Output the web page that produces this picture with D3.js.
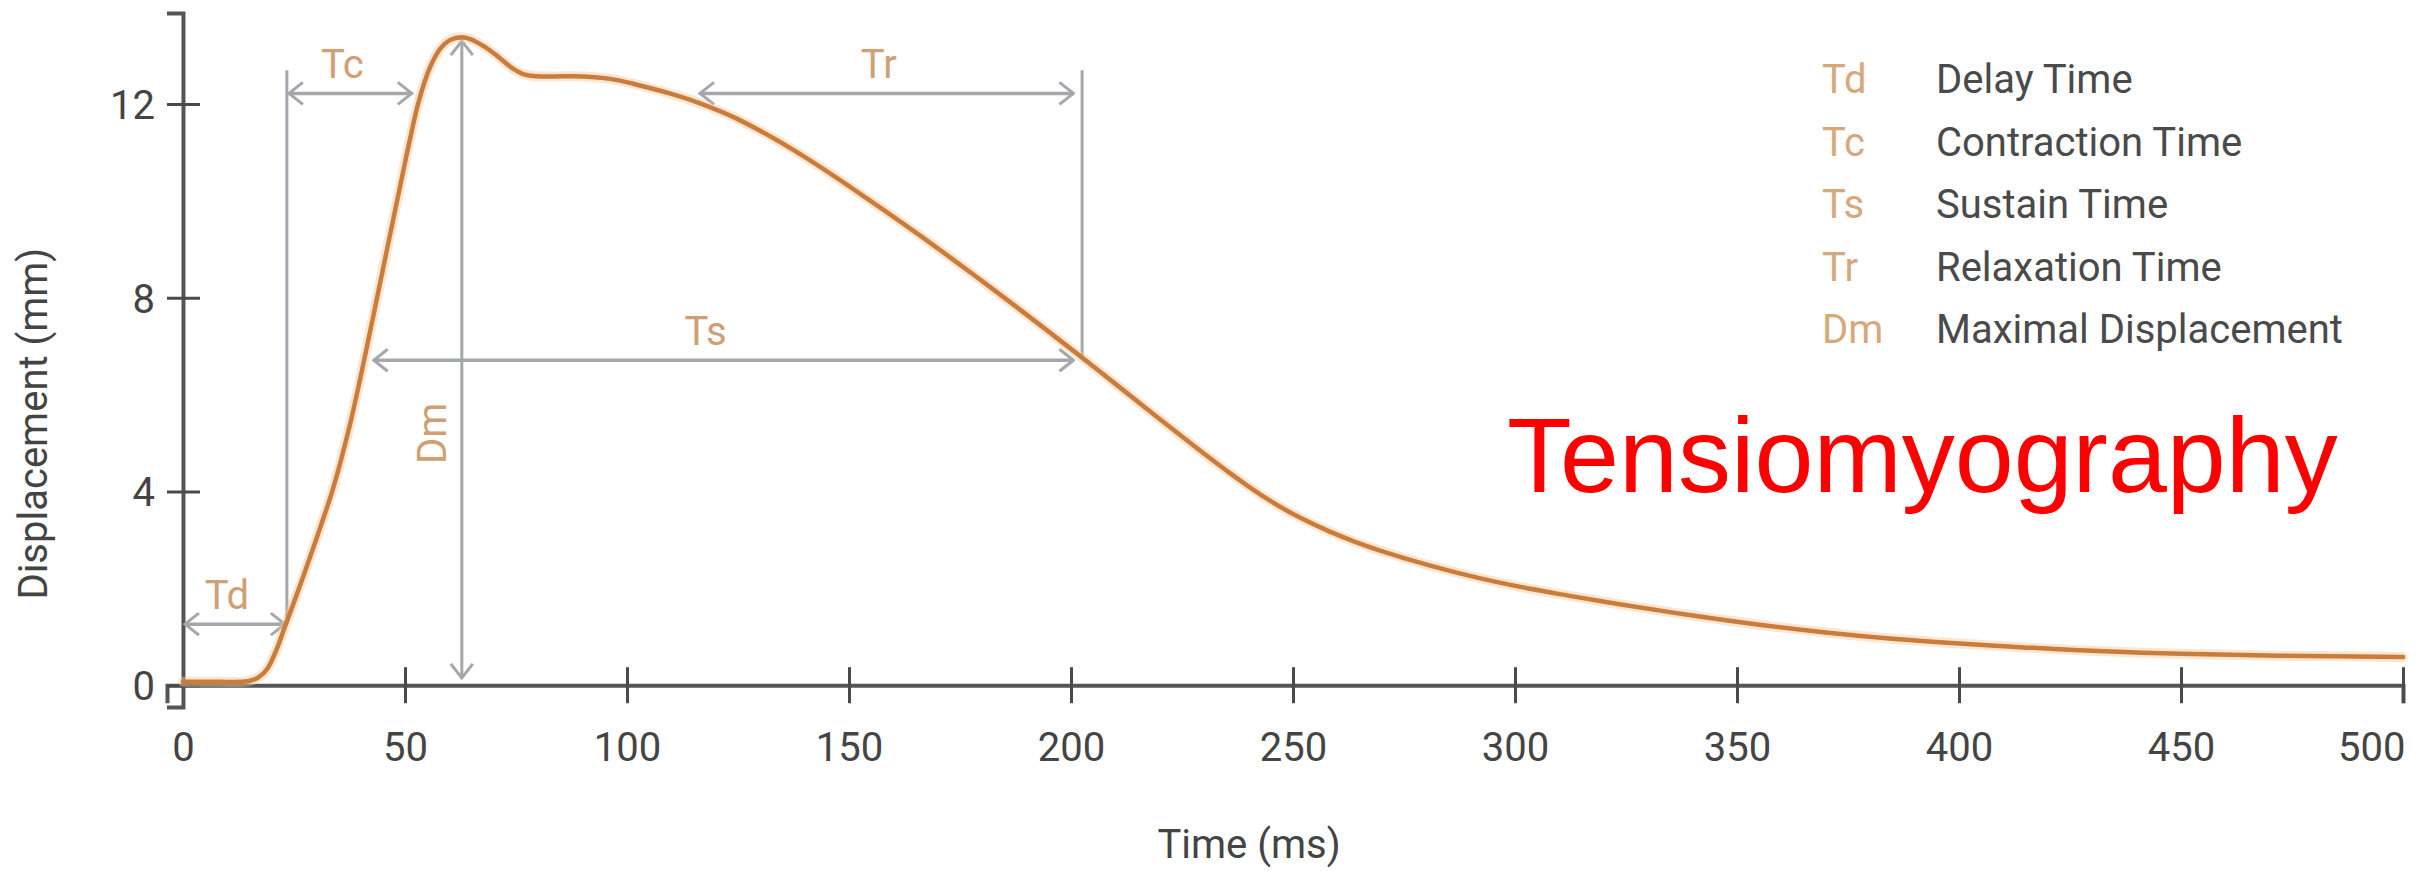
<!DOCTYPE html>
<html><head><meta charset="utf-8">
<script src="https://cdn.jsdelivr.net/npm/d3@7"></script>
<style>
body{margin:0;background:#fff;}
svg{display:block;}
text{font-family:Roboto,"DejaVu Sans",sans-serif;}
</style>
</head><body>
<svg id="chart" width="2432" height="871"></svg>
<script>
// ---- data ----
const timeMs = [0, 8, 14.5, 17, 19, 21, 23, 25.5, 28.6, 31, 33.8, 37.6, 41, 45.1, 48.9, 51, 53, 55.6, 58, 60.1, 62.8, 65, 67.6, 70, 72, 74.5, 76.6, 79, 82.7, 90.2, 96.2, 101.4, 106, 110, 116, 124, 132.9, 140, 148, 155, 163, 170, 178, 186, 193, 202, 211, 218, 224.5, 230, 235.8, 241, 247, 252, 258.3, 264, 269.6, 280.9, 292, 303.4, 312, 325, 340, 355, 370, 385, 400, 413, 427, 450, 472, 500];
const displacement = [0.07, 0.07, 0.08, 0.16, 0.34, 0.72, 1.22, 1.84, 2.64, 3.28, 4.06, 5.38, 6.8, 8.62, 10.3, 11.22, 12.02, 12.75, 13.15, 13.32, 13.38, 13.33, 13.2, 13.05, 12.9, 12.72, 12.62, 12.58, 12.57, 12.57, 12.52, 12.42, 12.31, 12.21, 12.03, 11.73, 11.3, 10.91, 10.43, 9.99, 9.48, 9.02, 8.48, 7.93, 7.44, 6.8, 6.15, 5.64, 5.17, 4.78, 4.38, 4.04, 3.69, 3.44, 3.17, 2.96, 2.78, 2.47, 2.21, 1.99, 1.85, 1.65, 1.44, 1.25, 1.09, 0.96, 0.86, 0.79, 0.72, 0.65, 0.61, 0.58];
const xTicks = [0, 50, 100, 150, 200, 250, 300, 350, 400, 450, 500];
const yTicks = [0, 4, 8, 12];
const legendCodes = ["Td", "Tc", "Ts", "Tr", "Dm"];
const legendNames = ["Delay Time", "Contraction Time", "Sustain Time", "Relaxation Time", "Maximal Displacement"];
// timing spans (ms) and the displacement level (mm) they are drawn at
const spanNames = ["Td", "Tc", "Ts", "Tr"];
const spanStart = [0, 23.4, 42.5, 116];
const spanEnd = [23.4, 52, 201, 201];
const spanLevel = [1.26, 12.22, 6.71, 12.22];
// vertical guide lines
const guideTime = [23.4, 202.5];
const guideTop = [12.7, 12.7];
const guideBottom = [1.26, 6.75];
// maximal displacement marker
const dmTime = 62.8, dmTop = 13.3, dmBottom = 0.15;

// ---- scales ----
const svg = d3.select("#chart");
const x = d3.scaleLinear().domain([-3.6, 500]).range([167, 2403]);
const y = d3.scaleLinear().domain([-0.45, 13.88]).range([707, 13]);

const annoColor = "#a4a7ab";
const labelColor = "#cfa074";
const axisColor = "#555";

// arrow marker
const defs = svg.append("defs");
defs.append("marker").attr("id", "chev")
  .attr("markerUnits", "userSpaceOnUse")
  .attr("viewBox", "-16 -13 18 26")
  .attr("refX", 0).attr("refY", 0)
  .attr("markerWidth", 18).attr("markerHeight", 26)
  .attr("orient", "auto-start-reverse")
  .append("path").attr("d", "M-14,-11L0,0L-14,11")
  .attr("fill", "none").attr("stroke", annoColor).attr("stroke-width", 3);

// ---- axes ----
const xAxis = svg.append("g").attr("transform", `translate(0,${y(0)})`)
  .call(d3.axisBottom(x).tickValues(xTicks).tickSizeOuter(0).tickSize(18));
xAxis.select(".domain").attr("stroke", axisColor).attr("stroke-width", 4);
xAxis.selectAll(".tick line").attr("y1", -18).attr("stroke", "#4a4a4a").attr("stroke-width", 3);
xAxis.selectAll(".tick text").attr("y", 76).attr("dy", 0)
  .attr("font-size", 40).attr("fill", "#444")
  .attr("text-anchor", (d, i, n) => i === n.length - 1 ? "end" : "middle")
  .attr("x", (d, i, n) => i === n.length - 1 ? 2 : 0);

const yAxis = svg.append("g").attr("transform", `translate(${x(0)},0)`)
  .call(d3.axisLeft(y).tickValues(yTicks).tickSizeOuter(0).tickSize(16));
yAxis.select(".domain").attr("stroke", axisColor).attr("stroke-width", 4);
yAxis.selectAll(".tick line").attr("x1", 17).attr("stroke", "#4a4a4a").attr("stroke-width", 3);
yAxis.selectAll(".tick text").attr("x", -28).attr("dy", "0.36em")
  .attr("font-size", 40).attr("fill", "#444");

svg.append("text").attr("x", x(250) - 44).attr("y", 858)
  .attr("text-anchor", "middle").attr("font-size", 40).attr("fill", "#444")
  .text("Time (ms)");
svg.append("text").attr("transform", `translate(47,${y(5.4)}) rotate(-90)`)
  .attr("text-anchor", "middle").attr("font-size", 40).attr("fill", "#444")
  .text("Displacement (mm)");

// ---- annotations ----
const anno = svg.append("g");
anno.selectAll("line.guide").data(guideTime).join("line").attr("class", "guide")
  .attr("x1", d => x(d)).attr("x2", d => x(d))
  .attr("y1", (d, i) => y(guideTop[i])).attr("y2", (d, i) => y(guideBottom[i]))
  .attr("stroke", annoColor).attr("stroke-width", 3);

anno.selectAll("line.span").data(spanNames).join("line").attr("class", "span")
  .attr("x1", (d, i) => x(spanStart[i]) + 2).attr("x2", (d, i) => x(spanEnd[i]) - 2)
  .attr("y1", (d, i) => y(spanLevel[i])).attr("y2", (d, i) => y(spanLevel[i]))
  .attr("stroke", annoColor).attr("stroke-width", 3.5)
  .attr("marker-start", "url(#chev)").attr("marker-end", "url(#chev)");

anno.selectAll("text.span").data(spanNames).join("text").attr("class", "span")
  .attr("x", (d, i) => (x(spanStart[i]) + x(spanEnd[i])) / 2 - (d === "Ts" ? 18 : 8))
  .attr("y", (d, i) => y(spanLevel[i]) - 15)
  .attr("text-anchor", "middle").attr("font-size", 40).attr("fill", labelColor)
  .text(d => d);

anno.append("line")
  .attr("x1", x(dmTime)).attr("x2", x(dmTime))
  .attr("y1", y(dmTop)).attr("y2", y(dmBottom))
  .attr("stroke", annoColor).attr("stroke-width", 3)
  .attr("marker-start", "url(#chev)").attr("marker-end", "url(#chev)");
anno.append("text")
  .attr("transform", `translate(${x(dmTime) - 16},${y(5.2)}) rotate(-90)`)
  .attr("text-anchor", "middle").attr("font-size", 40).attr("fill", labelColor)
  .text("Dm");

// ---- curve ----
const pts = timeMs.map((t, i) => [t, displacement[i]]);
const line = d3.line().x(d => x(d[0])).y(d => y(d[1])).curve(d3.curveCatmullRom.alpha(0.5));
svg.append("path").datum(pts).attr("d", line)
  .attr("fill", "none").attr("stroke", "#f4c898").attr("stroke-width", 10)
  .attr("stroke-opacity", 0.45).attr("stroke-linecap", "round");
svg.append("path").datum(pts).attr("d", line)
  .attr("fill", "none").attr("stroke", "#c97c3c").attr("stroke-width", 4.5)
  .attr("stroke-linecap", "round").attr("stroke-linejoin", "round");

// ---- legend ----
const lg = svg.append("g");
lg.selectAll("text.code").data(legendCodes).join("text").attr("class", "code")
  .attr("x", 1822).attr("y", (d, i) => 93 + i * 62.5)
  .attr("font-size", 40).attr("fill", "#d6a97c").text(d => d);
lg.selectAll("text.name").data(legendNames).join("text").attr("class", "name")
  .attr("x", 1936).attr("y", (d, i) => 93 + i * 62.5)
  .attr("font-size", 40).attr("fill", "#4a4a4a").text(d => d);

// ---- overlay title ----
svg.append("text").attr("x", 1507).attr("y", 492)
  .style("font-family", "'Liberation Sans', Arial, sans-serif")
  .attr("font-size", 106).attr("fill", "#ff0000")
  .text("Tensiomyography");
</script>
</body></html>
